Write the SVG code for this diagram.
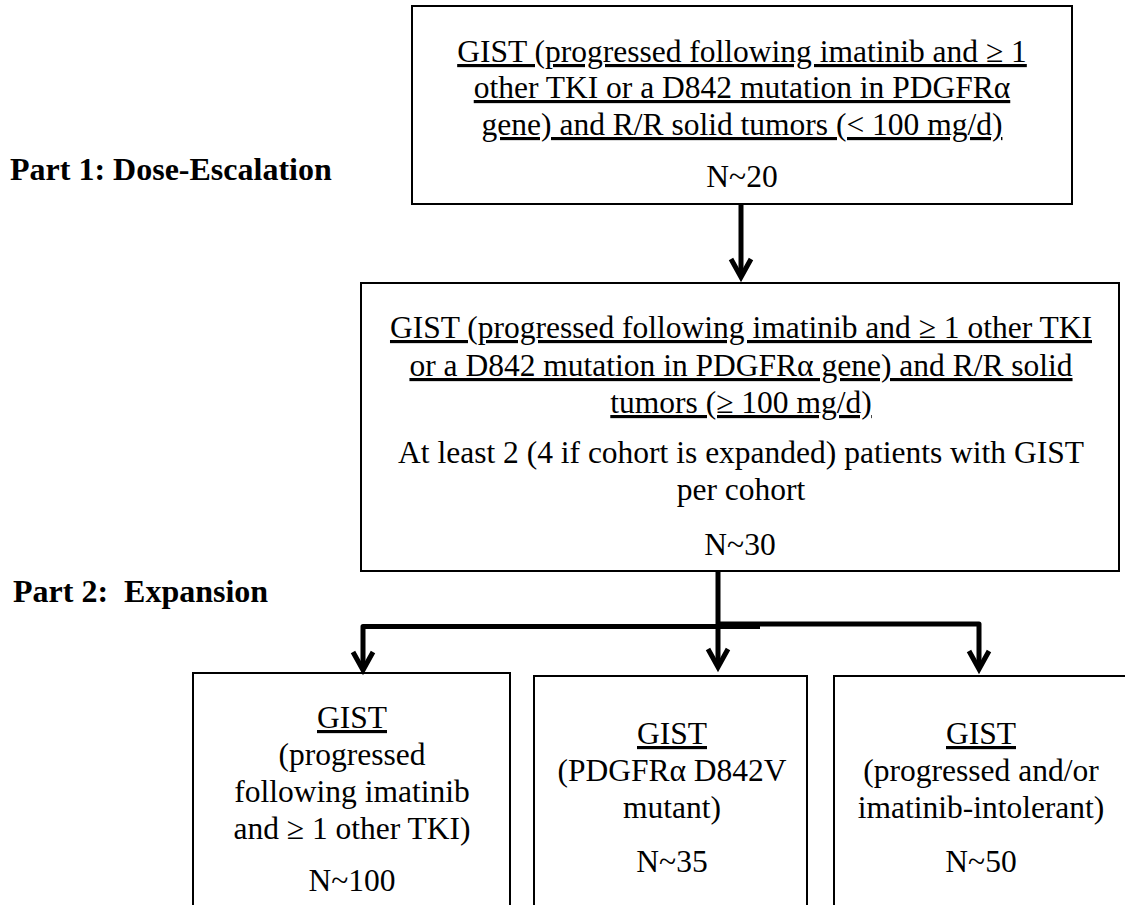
<svg xmlns="http://www.w3.org/2000/svg" width="1125" height="905" viewBox="0 0 1125 905">
<style>
.bg{fill:#fff}
.box{fill:#fff;stroke:#000;stroke-width:2}
.t{font-family:"Liberation Serif","Times New Roman",serif;font-size:31.5px;text-anchor:middle;fill:#000}
.u{text-decoration:underline}
.lbl{font-family:"Liberation Serif","Times New Roman",serif;font-size:32px;font-weight:bold;fill:#000}
.conn{fill:none;stroke:#000;stroke-width:5;stroke-linejoin:round}
.head{fill:none;stroke:#000;stroke-width:5;stroke-linejoin:miter}
</style>
<defs>
<marker id="chev" markerUnits="userSpaceOnUse" viewBox="-24 -14 30 28" refX="0" refY="0" markerWidth="30" markerHeight="28" orient="auto">
<path class="head" d="M -18 -10 L 0 0 L -18 10"/>
</marker>
</defs>
<rect class="bg" x="0" y="0" width="1125" height="905"/>
<text class="lbl" x="10" y="180">Part 1: Dose-Escalation</text>
<text class="lbl" x="13" y="602" xml:space="preserve">Part 2:  Expansion</text>
<g id="node-top">
<rect class="box" x="412" y="6" width="660" height="198"/>
<text class="t u" x="742" y="62">GIST (progressed following imatinib and ≥ 1</text>
<text class="t u" x="742" y="98">other TKI or a D842 mutation in PDGFRα</text>
<text class="t u" x="742" y="135">gene) and R/R solid tumors (&lt; 100 mg/d)</text>
<text class="t" x="742" y="187">N~20</text>
</g>
<g id="node-middle">
<rect class="box" x="361" y="283" width="758" height="288"/>
<text class="t u" x="741" y="338">GIST (progressed following imatinib and ≥ 1 other TKI</text>
<text class="t u" x="741" y="376">or a D842 mutation in PDGFRα gene) and R/R solid</text>
<text class="t u" x="741" y="413">tumors (≥ 100 mg/d)</text>
<text class="t" x="741" y="463">At least 2 (4 if cohort is expanded) patients with GIST</text>
<text class="t" x="741" y="500">per cohort</text>
<text class="t" x="740" y="555">N~30</text>
</g>
<g id="node-b1">
<rect class="box" x="193" y="673" width="317" height="250"/>
<text class="t u" x="352" y="728">GIST</text>
<text class="t" x="352" y="765">(progressed</text>
<text class="t" x="352" y="802">following imatinib</text>
<text class="t" x="352" y="839">and ≥ 1 other TKI)</text>
<text class="t" x="352" y="891">N~100</text>
</g>
<g id="node-b2">
<rect class="box" x="534" y="676" width="273" height="250"/>
<text class="t u" x="672" y="744">GIST</text>
<text class="t" x="672" y="781">(PDGFRα D842V</text>
<text class="t" x="672" y="818">mutant)</text>
<text class="t" x="672" y="872">N~35</text>
</g>
<g id="node-b3">
<rect class="box" x="834" y="676" width="300" height="250"/>
<text class="t u" x="981" y="744">GIST</text>
<text class="t" x="981" y="781">(progressed and/or</text>
<text class="t" x="981" y="818">imatinib-intolerant)</text>
<text class="t" x="981" y="872">N~50</text>
</g>
<g id="connectors">
<path class="conn" d="M741 205 V277" marker-end="url(#chev)"/>
<path class="conn" d="M718 572 V667" marker-end="url(#chev)"/>
<path class="conn" d="M760 626.5 H363 V670" marker-end="url(#chev)"/>
<path class="conn" d="M718 624 H979 V669" marker-end="url(#chev)"/>
</g>
</svg>
